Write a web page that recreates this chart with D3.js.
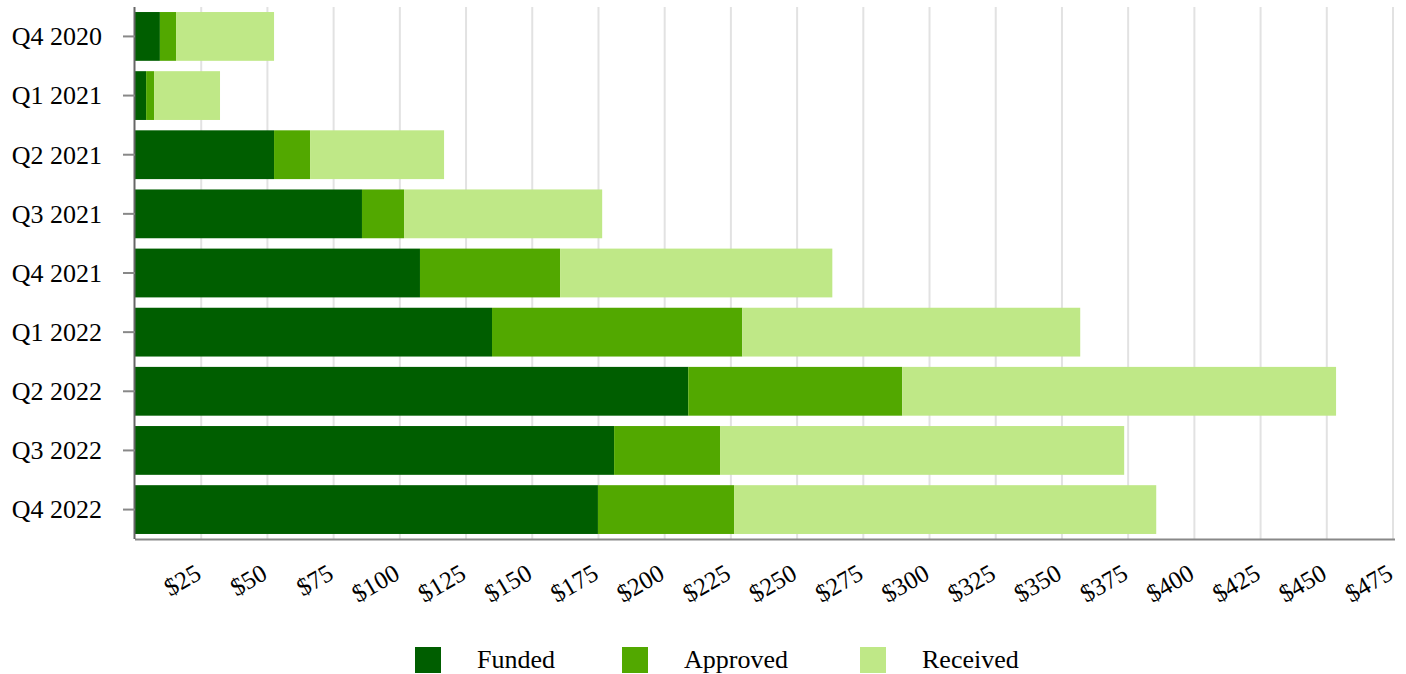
<!DOCTYPE html>
<html>
<head>
<meta charset="utf-8">
<script src="https://cdn.jsdelivr.net/npm/d3@7"></script>
<style>
  html, body { margin: 0; padding: 0; background: #fff; }
  svg { display: block; }
  text { font-family: "Liberation Serif", "Times New Roman", serif; fill: #000; }
</style>
</head>
<body>
<svg id="chart" width="1406" height="674"></svg>
<script>
const categories = ["Q4 2020", "Q1 2021", "Q2 2021", "Q3 2021", "Q4 2021", "Q1 2022", "Q2 2022", "Q3 2022", "Q4 2022"];
const seriesNames = ["Funded", "Approved", "Received"];
const funded   = [9.4, 4.2, 52.5, 85.7, 107.6, 134.8, 208.9, 180.9, 174.8];
const approved = [6.1, 3.0, 13.6, 15.9, 52.9, 94.5, 80.8, 40.0, 51.4];
const received = [37.0, 24.9, 50.6, 74.8, 102.8, 127.6, 163.8, 152.6, 159.4];
const xTicks = [25, 50, 75, 100, 125, 150, 175, 200, 225, 250, 275, 300, 325, 350, 375, 400, 425, 450, 475];
const colors = ["#005e00", "#52a800", "#bfe887"];

const svg = d3.select("#chart");
const mLeft = 135, mRight = 1393, mTop = 7, mBottom = 539;

const x = d3.scaleLinear().domain([0, 475]).range([mLeft, mRight]);
const y = d3.scaleBand().domain(categories).range([mTop, mBottom]).paddingInner(0.175).paddingOuter(0.085);

const rows = categories.map((c, i) => ({ cat: c, Funded: funded[i], Approved: approved[i], Received: received[i] }));
const stacked = d3.stack().keys(seriesNames)(rows);

// gridlines
svg.append("g").selectAll("line").data(xTicks).join("line")
  .attr("x1", d => x(d)).attr("x2", d => x(d))
  .attr("y1", mTop).attr("y2", mBottom)
  .attr("stroke", "#e2e2e2").attr("stroke-width", 2);

// bars
svg.append("g").selectAll("g").data(stacked).join("g")
  .attr("fill", (d, i) => colors[i])
  .selectAll("rect").data(d => d).join("rect")
  .attr("x", d => x(d[0]))
  .attr("width", d => x(d[1]) - x(d[0]))
  .attr("y", d => y(d.data.cat))
  .attr("height", y.bandwidth());

// x axis
const xAxis = svg.append("g").attr("transform", `translate(0,${mBottom})`)
  .call(d3.axisBottom(x).tickValues(xTicks).tickSize(0).tickFormat(d => "$" + d));
xAxis.select(".domain").attr("stroke", "#888").attr("stroke-width", 2)
  .attr("d", `M${mLeft},0.5H${mRight + 2}`);
xAxis.selectAll(".tick text")
  .attr("font-size", 25)
  .attr("font-family", "Liberation Serif, serif")
  .attr("fill", "#000")
  .attr("text-anchor", "end")
  .attr("y", 0).attr("dy", 0)
  .attr("transform", "translate(1,39) rotate(-30)");

// y axis
const yAxis = svg.append("g").attr("transform", `translate(${mLeft},0)`)
  .call(d3.axisLeft(y).tickSize(12).tickPadding(21));
yAxis.select(".domain").attr("stroke", "#666").attr("stroke-width", 2)
  .attr("d", `M-0.5,${mTop}V${mBottom}`);
yAxis.selectAll(".tick line").attr("stroke", "#888").attr("stroke-width", 2);
yAxis.selectAll(".tick text")
  .attr("font-size", 26)
  .attr("font-family", "Liberation Serif, serif")
  .attr("fill", "#000")
  .attr("dy", "0.34em");

// legend
const legendX = [415, 622, 860];
const legend = svg.append("g");
seriesNames.forEach((name, i) => {
  legend.append("rect").attr("x", legendX[i]).attr("y", 647).attr("width", 26).attr("height", 26).attr("fill", colors[i]);
  legend.append("text").attr("x", legendX[i] + 62).attr("y", 668).attr("font-size", 26).text(name);
});
</script>
</body>
</html>
